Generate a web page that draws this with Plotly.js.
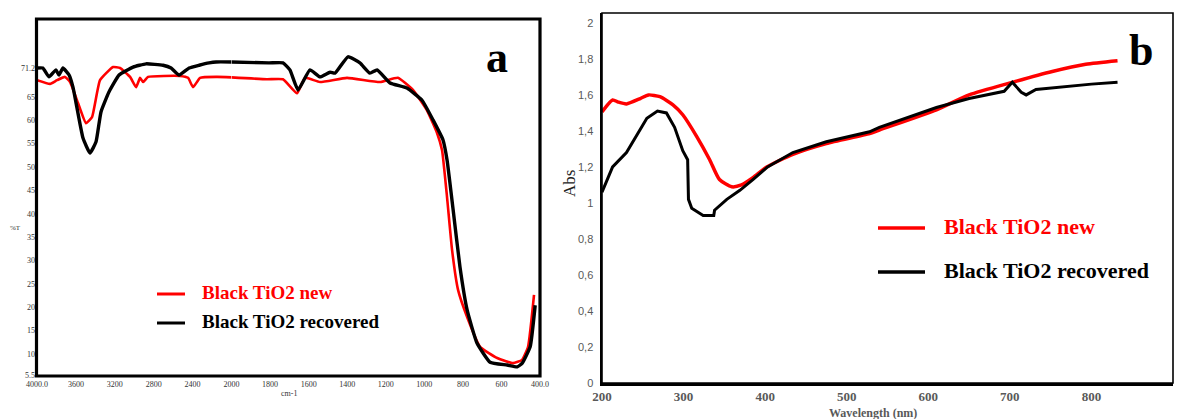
<!DOCTYPE html>
<html>
<head>
<meta charset="utf-8">
<script src="https://cdn.plot.ly/plotly-3.0.1.min.js"></script>
<style>html,body{margin:0;padding:0;background:#fff;}#chart{width:1181px;height:419px;}</style>
</head>
<body>
<div id="chart"></div>
<script>
// ---------- Panel a : FTIR (%T vs wavenumber, cm-1) ----------
const ftirRecoveredWn = [4000,3940,3877,3805,3774,3733,3670,3630,3600,3527,3455,3393,3342,3259,3156,3012,2879,2704,2621,2539,2436,2333,2230,2158,2000,1806,1733,1697,1655,1593,1541,1489,1463,1396,1334,1282,1245,1178,1090,1012,955,903,882,851,815,778,727,659,570,518,492,451,425];
const ftirRecoveredT  = [71.2,71.2,69.3,70.8,69.7,71.2,69.7,67.1,63.9,56.2,53.0,55.4,61.8,66.1,69.7,71.4,72.1,71.8,71.2,69.7,71.2,71.8,72.3,72.5,72.5,72.3,72.3,70.8,66.5,70.8,69.3,70.3,70.1,73.6,72.3,70.1,70.8,68.0,66.9,64.3,60.1,55.8,51.5,41.0,28.6,19.4,12.3,8.2,7.6,7.2,8.0,11.5,20.4];

const ftirNewWn = [4000,3866,3794,3712,3660,3578,3496,3434,3352,3218,3146,3043,2981,2940,2909,2858,2529,2447,2395,2323,2149,2000,1816,1733,1660,1619,1541,1401,1230,1137,1059,987,934,908,882,856,825,778,711,622,540,493,462,431];
const ftirNewT  = [68.6,67.8,68.6,69.3,68.2,63.7,59.4,60.7,68.6,71.4,71.2,69.3,67.1,69.1,68.2,69.3,69.5,69.1,67.1,69.1,69.3,69.2,68.8,68.8,65.8,69.1,68.2,69.1,68.2,69.1,66.5,62.2,57.3,53.6,43.5,32.2,23.7,17.9,11.5,9.1,8.0,8.7,11.5,22.6];

const ftirTickValsHigh = [4000,3600,3200,2800,2400];
const ftirTickTextHigh = ["4000.0","3600","3200","2800","2400"];
const ftirTickValsLow  = [2000,1800,1600,1400,1200,1000,800,600,400];
const ftirTickTextLow  = ["2000","1800","1600","1400","1200","1000","800","600","400.0"];
const ftirYTickVals = [5.5,10,15,20,25,30,35,40,45,50,55,60,65,71.2];
const ftirYTickText = ["5.5","10","15","20","25","30","35","40","45","50","55","60","65","71.2"];

// ---------- Panel b : UV-Vis (Abs vs wavelength, nm) ----------
const uvNewNm  = [200,213,220,230,247,257,271,287,299,316,332,344,359,371,385,402,434,475,528,540,610,650,703,752,793,832];
const uvNewAbs = [1.506,1.572,1.56,1.55,1.58,1.60,1.59,1.545,1.49,1.37,1.24,1.13,1.09,1.10,1.14,1.20,1.27,1.33,1.385,1.405,1.517,1.60,1.67,1.73,1.77,1.79];

const uvRecNm  = [200,213,230,243,255,268,279,289,299,305,306,310,324,337,338,353,369,385,397,403,434,475,528,540,610,650,693,703,714,720,732,773,800,832];
const uvRecAbs = [1.06,1.20,1.28,1.38,1.47,1.51,1.50,1.42,1.29,1.24,1.02,0.97,0.93,0.93,0.96,1.02,1.07,1.13,1.18,1.20,1.28,1.34,1.395,1.42,1.53,1.58,1.62,1.67,1.615,1.60,1.63,1.65,1.66,1.67];

const uvXTicks = [200,300,400,500,600,700,800,900];
const uvYTickVals = [0,0.2,0.4,0.6,0.8,1,1.2,1.4,1.6,1.8,2];
const uvYTickText = ["0","0,2","0,4","0,6","0,8","1","1,2","1,4","1,6","1,8","2"];

const seriesNames = ["Black TiO2 new","Black TiO2 recovered"];

// ---------- helpers (page geometry in pixels -> paper fractions) ----------
const W = 1181, H = 419;
const PX = p => p / W;
const PY = p => 1 - p / H;

function part(wn, t, high) {
  const xs = [], ys = [];
  for (let i = 0; i < wn.length; i++) {
    if ((high && wn[i] >= 2000) || (!high && wn[i] <= 2000)) { xs.push(wn[i]); ys.push(t[i]); }
  }
  return {x: xs, y: ys};
}

const RED = "#ff0000", BLK = "#000000";
const traces = [];
[[ftirNewWn, ftirNewT, RED, 2.6, seriesNames[0]],
 [ftirRecoveredWn, ftirRecoveredT, BLK, 3.4, seriesNames[1]]].forEach(s => {
  const hi = part(s[0], s[1], true), lo = part(s[0], s[1], false);
  traces.push({type:"scatter", mode:"lines", name:s[4], x:hi.x, y:hi.y, xaxis:"x", yaxis:"y",
               line:{color:s[2], width:s[3], shape:"spline", smoothing:0.4}, showlegend:false, hoverinfo:"skip"});
  traces.push({type:"scatter", mode:"lines", name:s[4], x:lo.x, y:lo.y, xaxis:"x2", yaxis:"y",
               line:{color:s[2], width:s[3], shape:"spline", smoothing:0.4}, showlegend:false, hoverinfo:"skip"});
});
traces.push({type:"scatter", mode:"lines", name:seriesNames[0], x:uvNewNm, y:uvNewAbs, xaxis:"x3", yaxis:"y2",
             line:{color:RED, width:3.5, shape:"spline", smoothing:0.6}, showlegend:false, hoverinfo:"skip"});
traces.push({type:"scatter", mode:"lines", name:seriesNames[1], x:uvRecNm, y:uvRecAbs, xaxis:"x3", yaxis:"y2",
             line:{color:BLK, width:3}, showlegend:false, hoverinfo:"skip"});

const smallSerif = {family:"Liberation Serif", size:8, color:"#333"};
const boldSerifGray = {family:"Liberation Serif", size:13, color:"#595959", weight:"bold"};

const layout = {
  width: W, height: H,
  margin: {l:0, r:0, t:0, b:0, pad:0},
  paper_bgcolor: "#fff", plot_bgcolor: "rgba(0,0,0,0)",
  showlegend: false,
  xaxis: {domain:[PX(37), PX(231.5)], range:[4000,2000], anchor:"y",
          showgrid:false, zeroline:false, showline:false, ticks:"",
          tickmode:"array", tickvals:ftirTickValsHigh, ticktext:ftirTickTextHigh,
          tickfont:smallSerif, ticklabelstandoff:2},
  xaxis2: {domain:[PX(231.5), PX(540)], range:[2000,400], anchor:"y",
          showgrid:false, zeroline:false, showline:false, ticks:"",
          tickmode:"array", tickvals:ftirTickValsLow, ticktext:ftirTickTextLow,
          tickfont:smallSerif, ticklabelstandoff:2},
  yaxis: {domain:[PY(376), PY(19)], range:[5.25,81.7], anchor:"x",
          showgrid:false, zeroline:false, showline:false, ticks:"",
          tickmode:"array", tickvals:ftirYTickVals, ticktext:ftirYTickText,
          tickfont:smallSerif, ticklabelstandoff:1},
  xaxis3: {domain:[PX(602), PX(1173)], range:[200,900], anchor:"y2",
          showgrid:false, zeroline:false, showline:true, linewidth:2.5, linecolor:"#000",
          ticks:"", tickmode:"array", tickvals:uvXTicks,
          tickfont:boldSerifGray, ticklabelstandoff:0},
  yaxis2: {domain:[PY(383), PY(13)], range:[0,2.055], anchor:"x3",
          showgrid:false, zeroline:false, showline:true, linewidth:2.5, linecolor:"#000",
          ticks:"", tickmode:"array", tickvals:uvYTickVals, ticktext:uvYTickText,
          tickfont:{family:"Liberation Sans", size:11, color:"#595959"}, ticklabelstandoff:4},
  shapes: [
    {type:"rect", xref:"paper", yref:"paper", x0:PX(36.5), x1:PX(540), y0:PY(376), y1:PY(19),
     line:{color:"#000", width:3.2}, fillcolor:"rgba(0,0,0,0)"},
    {type:"rect", xref:"paper", yref:"paper", x0:PX(602), x1:PX(1173), y0:PY(383), y1:PY(13),
     line:{color:"#000", width:1.6}, fillcolor:"rgba(0,0,0,0)"},
    // legend samples
    {type:"line", xref:"paper", yref:"paper", x0:PX(157), x1:PX(185), y0:PY(294), y1:PY(294), line:{color:RED, width:3}},
    {type:"line", xref:"paper", yref:"paper", x0:PX(157), x1:PX(185), y0:PY(323), y1:PY(323), line:{color:BLK, width:3}},
    {type:"line", xref:"paper", yref:"paper", x0:PX(878), x1:PX(925), y0:PY(228), y1:PY(228), line:{color:RED, width:3.5}},
    {type:"line", xref:"paper", yref:"paper", x0:PX(878), x1:PX(925), y0:PY(272), y1:PY(272), line:{color:BLK, width:3.5}}
  ],
  annotations: [
    {xref:"paper", yref:"paper", x:PX(200), y:PY(292), xanchor:"left", yanchor:"middle", showarrow:false,
     text:seriesNames[0], font:{family:"Liberation Serif", size:19, color:RED, weight:"bold"}},
    {xref:"paper", yref:"paper", x:PX(200), y:PY(321), xanchor:"left", yanchor:"middle", showarrow:false,
     text:seriesNames[1], font:{family:"Liberation Serif", size:19, color:BLK, weight:"bold"}},
    {xref:"paper", yref:"paper", x:PX(942), y:PY(226), xanchor:"left", yanchor:"middle", showarrow:false,
     text:seriesNames[0], font:{family:"Liberation Serif", size:22, color:RED, weight:"bold"}},
    {xref:"paper", yref:"paper", x:PX(942), y:PY(270), xanchor:"left", yanchor:"middle", showarrow:false,
     text:seriesNames[1], font:{family:"Liberation Serif", size:22, color:BLK, weight:"bold"}},
    {xref:"paper", yref:"paper", x:PX(497), y:PY(57), xanchor:"center", yanchor:"middle", showarrow:false,
     text:"a", font:{family:"Liberation Serif", size:44, color:"#000", weight:"bold"}},
    {xref:"paper", yref:"paper", x:PX(1141), y:PY(50), xanchor:"center", yanchor:"middle", showarrow:false,
     text:"b", font:{family:"Liberation Serif", size:44, color:"#000", weight:"bold"}},
    {xref:"paper", yref:"paper", x:PX(15), y:PY(228), xanchor:"center", yanchor:"middle", showarrow:false,
     text:"%T", font:{family:"Liberation Serif", size:7, color:"#333"}},
    {xref:"paper", yref:"paper", x:PX(289), y:PY(393), xanchor:"center", yanchor:"middle", showarrow:false,
     text:"cm-1", font:{family:"Liberation Serif", size:8, color:"#333"}},
    {xref:"paper", yref:"paper", x:PX(569), y:PY(184), xanchor:"center", yanchor:"middle", showarrow:false,
     text:"Abs", textangle:-90, font:{family:"Liberation Serif", size:17, color:"#222"}},
    {xref:"paper", yref:"paper", x:PX(873), y:PY(413), xanchor:"center", yanchor:"middle", showarrow:false,
     text:"Wavelength (nm)", font:{family:"Liberation Serif", size:12, color:"#595959", weight:"bold"}}
  ]
};

Plotly.newPlot("chart", traces, layout, {staticPlot:true, displayModeBar:false});
</script>
</body>
</html>
